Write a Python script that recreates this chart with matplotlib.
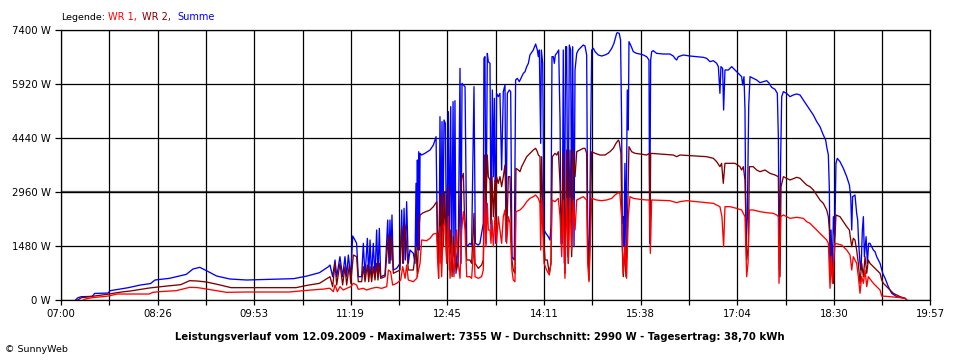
import matplotlib
matplotlib.use("Agg")
import matplotlib.pyplot as plt
import numpy as np

# ---------------- data (time = minutes after 07:00, power in W) ----------------
t_sum = [13, 15, 18, 28, 30, 42, 44, 53, 60, 71, 80, 84, 97, 112, 118, 124, 130, 139, 151, 166, 208, 220, 231, 239,
         240.4, 242.8, 244.9, 246.4, 249.3, 251.7, 253.8, 255.3, 256.8, 258.9,
         260.7, 262.7, 264.2, 265.7, 268.7, 270.2, 271.7, 273.8, 275.0, 276.2,
         277.6, 279.1, 280.6, 282.1, 283.3, 284.5, 285.7, 289.6, 292.0, 293.1,
         294.0, 294.9, 295.8, 297.0, 300.0, 303.0, 304.5, 305.4, 306.6, 307.7,
         308.9, 310.4, 311.9, 314.9, 316.4, 317.3, 317.9, 318.5, 319.1, 319.7,
         320.3, 320.9, 322.3, 325.3, 329.8, 332.8, 335.2, 336.4, 338.1, 338.7,
         339.6, 340.5, 341.4, 342.3, 343.5, 344.7, 346.2, 347.1, 348.3, 349.2,
         350.4, 351.2, 352.1, 353.0, 355.1, 356.6, 357.5, 358.4, 359.6, 361.1,
         362.6, 365.5,
         367.0, 369.1, 370.3, 372.9, 374.4, 375.9, 377.4, 378.0, 378.9, 379.8,
         381.0, 381.9, 383.4, 384.3, 385.5, 386.4, 387.3, 388.4, 389.3, 390.8,
         392.3, 393.8, 395.3, 396.8, 397.7, 398.9, 400.7, 401.9, 403.0, 405.1,
         406.3, 407.8, 409.6, 411.7, 413.2, 414.7, 416.2, 417.7, 419.1, 422.1,
         424.2, 425.7, 426.6, 427.5, 428.7, 429.3, 430.5, 431.7, 433.4, 435.5,
         437.0, 437.9, 438.8, 440.0, 440.9, 441.8, 443.0, 444.8, 446.0, 446.9,
         448.0, 448.9, 449.8, 451.0, 451.9, 453.1, 454.3, 455.5, 456.4, 457.3,
         458.5, 459.4, 460.9, 462.4, 463.8, 466.8, 468.3, 469.8, 470.7, 471.9,
         472.8, 474.3, 475.8, 477.3, 480.2, 483.2, 486.2, 489.2, 492.2, 494.2,
         496.6,
         497.2, 498.9, 500.1, 501.0, 501.6, 502.5, 503.1, 504.0, 504.9, 506.1,
         507.0, 507.6, 509.1, 511.5, 514.4, 517.4, 520.4, 523.4, 525.5, 526.1,
         527.0, 527.9, 529.3, 532.3, 538.3, 544.2, 547.2, 548.7, 550.2, 551.7,
         556.2, 562.1, 568.1, 574.0, 577.0, 580.0, 583.0, 586.0, 587.5, 588.9,
         589.8, 591.3, 592.2, 593.4, 596.4, 599.4, 602.4, 605.3, 608.3, 609.2,
         610.4, 611.3, 612.2, 613.4, 614.6, 615.8, 618.7, 621.7, 624.7,
         627.7, 630.7, 633.0, 635.1, 638.1, 640.2, 641.1, 642.0, 643.2, 644.1,
         645.6, 648.5, 651.5, 654.5, 657.5, 660.5, 663.4, 666.4, 669.4, 672.4,
         675.4, 678.3, 681.3, 683.4, 684.3, 685.8, 686.7, 687.3, 688.2, 689.4,
         690.3, 691.5, 692.6, 693.8, 696.2, 699.2, 702.2, 704.6, 705.8, 706.7,
         707.5, 709.6, 711.1, 712.0, 712.9, 714.1, 715.0, 716.2, 717.1, 718.0,
         719.5, 720.7, 721.8, 723.0, 724.5, 726.0, 727.5, 729.0, 732.0, 734.4,
         736.5, 739.4, 742.4, 746.9, 751.4, 754.3, 755.8]
p_sum = [0, 60, 90, 100, 180, 190, 255, 300, 337, 411, 450, 548, 594, 703, 850, 895, 804, 658, 575, 548, 585, 658, 749, 913,
         959, 639, 1096, 639, 1187, 639, 1187, 639, 1233, 639,
         1754, 1644, 1553, 639, 639, 1553, 639, 1690, 639, 1644,
         639, 1553, 639, 1918, 639, 1964, 639, 685, 2192, 1005,
         2192, 1096, 2330, 822, 868, 1005, 2467, 1005, 2512, 1096,
         2695, 1005, 1370, 1279, 1005, 3197, 1462, 3837, 1370, 4065,
         1370, 4020, 3974, 4020, 4111, 4248, 4477, 1553, 1918, 5025,
         1553, 4888, 1918, 4933, 4842, 1096, 5162, 1462, 5299, 1005,
         5436, 1187, 5463, 731, 1553, 6349, 1005, 5938, 5893, 5847,
         1462, 1553,
         1507, 5847, 1553, 1507, 1553, 1827, 2101, 6623, 6669, 1553,
         6760, 6532, 6486, 1918, 5756, 3380, 5527, 1553, 5664, 5573,
         5664, 3563, 5710, 5893, 1599, 5664, 5756, 5710, 1187, 1096,
         6030, 6075, 5984, 6121, 6212, 6258, 6395, 6486, 6715, 6852,
         7016, 6852, 6669, 6852, 4294, 6852, 6486, 1918, 1827, 1736,
         1644, 2010, 6669, 6669, 6486, 6715, 6760, 6852, 4933, 1553,
         1553, 6852, 1005, 6943, 6943, 1187, 6989, 6852, 1736, 6943,
         1462, 6304, 6760, 6852, 6898, 6989, 6961, 6715, 1827, 731,
         3106, 6852, 6898, 6806, 6715, 6687, 6715, 6760, 6898, 7035,
         7309,
         7327, 7309, 7126, 4933, 2101, 2284, 1462, 3746, 1370, 5756,
         4659, 7080, 6989, 6806, 6760, 6742, 6715, 6669, 6578, 1553,
         6578, 6806, 6834, 6760, 6742, 6742, 6687, 6623, 6578, 6669,
         6715, 6687, 6669, 6651, 6623, 6532, 6559, 6486, 6395, 5664,
         6395, 6349, 5207, 6304, 6304, 6395, 6304, 6212, 6121, 5893,
         6121, 5207, 1462, 2284, 5299, 6121, 6075, 6030, 5957,
         5984, 6011, 5938, 5829, 5774, 5664, 4477, 822, 3928, 5573,
         5710, 5664, 5573, 5619, 5646, 5619, 5481, 5344, 5207, 5070,
         4888, 4751, 4522, 4385, 4202, 3974, 3015, 822, 1918, 731,
         2284, 1736, 3746, 3883, 3791, 3609, 3380, 3152, 2832, 1918,
         2832, 2878, 2375, 2192, 1553, 1005, 822, 1918, 2284, 1187,
         1736, 1005, 1553, 1553, 1462, 1370, 1325, 1187, 1005, 731,
         594, 365, 183, 91, 64, 46, 0]

t_wr2 = [15, 18, 25, 35, 43, 50, 57, 62, 79, 95, 107, 115, 122, 130, 141, 152, 166, 210, 220, 231, 239,
         240.4, 242.8, 244.9, 246.4, 249.3, 251.7, 253.8, 255.3, 257.7, 258.9,
         261.3, 264.2, 265.7, 268.7, 270.2, 271.7, 273.8, 275.0, 276.2, 277.6,
         279.1, 280.6, 282.1, 283.3, 284.5, 285.7, 289.6, 292.6, 294.0, 295.5,
         297.0, 300.0, 303.0, 304.5, 306.0, 307.5, 310.4, 314.9, 317.3, 318.5,
         319.7, 320.9, 323.8, 329.8, 332.8, 335.8, 336.7, 337.5, 338.7, 339.6,
         340.8, 341.7, 342.9, 344.7, 346.2, 347.1, 348.3, 349.5, 350.7, 352.1,
         353.6, 355.1, 356.6, 358.1, 359.6, 360.5, 361.7, 362.6, 365.5,
         367.0, 369.1, 370.0, 373.0, 375.9, 377.4, 378.6, 379.8, 381.0, 381.9,
         383.4, 384.3, 385.2, 386.4, 387.9, 388.7, 389.3, 390.8, 392.3, 393.8,
         395.3, 396.8, 398.3, 399.8, 401.3, 403.0, 404.2, 405.7, 406.6, 408.7,
         410.2, 411.7, 413.2, 416.2, 419.1, 422.1, 424.2, 425.7, 426.6, 428.1,
         428.7, 429.6, 431.1, 432.6, 434.6, 436.4, 437.9, 439.1, 441.5, 443.0,
         444.5, 446.0, 447.5, 448.9, 450.4, 451.9, 453.4, 454.9, 456.4, 457.9,
         459.4, 460.9, 463.8, 466.8, 468.3, 469.8, 470.7, 471.9, 472.8, 474.3,
         477.3, 481.7, 486.2, 490.6, 493.6, 496.0, 498.1,
         498.9, 500.4, 501.6, 502.5, 504.0, 504.9, 506.1, 507.6, 510.0, 513.0,
         517.4, 523.4, 525.8, 526.4, 527.0, 535.3, 547.2, 550.2, 553.2, 568.1,
         577.0, 583.0, 586.0, 588.9, 590.4, 591.9, 593.4, 602.4, 606.8, 608.3,
         609.8, 611.3, 612.8, 614.3, 615.2, 618.7, 621.7, 624.7,
         629.2, 633.6, 638.1, 641.1, 641.7, 642.6, 643.5, 645.6, 651.5, 657.5,
         660.5, 663.4, 666.4, 669.4, 672.4, 675.4, 678.3, 681.3, 684.3, 685.8,
         686.7, 687.9, 689.1, 690.3, 691.7, 692.6, 696.2, 699.2, 702.2, 704.6,
         705.8, 706.7, 708.1, 709.6, 711.1, 712.6, 714.1, 715.6, 717.1, 718.6,
         720.1, 721.5, 723.0, 726.0, 729.0, 732.0, 733.5, 735.0, 737.9, 740.9,
         743.9, 749.9, 754.3, 755.8]
p_wr2 = [0, 60, 90, 130, 164, 201, 230, 247, 329, 384, 420, 530, 520, 493, 420, 338, 338, 338, 402, 457, 612,
         639, 365, 1005, 411, 1005, 411, 913, 411, 959, 457,
         1233, 1187, 502, 502, 913, 502, 959, 502, 913, 502,
         913, 548, 1005, 548, 1005, 594, 639, 1781, 1005, 1736,
         731, 776, 822, 2010, 1005, 2055, 822, 822, 1462, 639,
         1918, 2330, 2393, 2467, 2558, 2695, 1462, 1005, 2878, 1005,
         2969, 1462, 2923, 1096, 3106, 822, 1918, 639, 1736, 1005,
         822, 1096, 2832, 3335, 3472, 2421, 1918, 1096, 1096,
         1005, 2375, 1005, 868, 959, 1096, 3974, 2649, 3974, 3380,
         3289, 2101, 3380, 2284, 3289, 1918, 3380, 3197, 3380, 3106,
         3380, 3700, 1736, 3380, 3380, 1096, 822, 731, 3609, 3563,
         3517, 3654, 3746, 3928, 4020, 4111, 4157, 4065, 3974, 3928,
         2101, 3928, 1827, 1096, 1096, 731, 1005, 3928, 4020, 3974,
         4065, 3197, 1553, 4020, 731, 4111, 1005, 4111, 1187, 4111,
         3380, 4065, 4111, 4157, 4157, 4020, 1553, 548, 1736, 4065,
         4020, 3974, 3974, 4065, 4157, 4294, 4385,
         4340, 4020, 1462, 639, 1462, 639, 1918, 4202, 4065, 4020,
         4002, 3974, 4020, 1644, 4020, 4002, 3974, 3928, 3974, 3947,
         3928, 3883, 3791, 3654, 3746, 3197, 3746, 3746, 3654, 3563,
         3654, 3289, 1096, 1462, 3654, 3654, 3563, 3517,
         3563, 3472, 3426, 3380, 1644, 639, 3106, 3380, 3289, 3362,
         3335, 3243, 3152, 3106, 3015, 2878, 2741, 2649, 2467, 2284,
         1918, 639, 1005, 457, 1736, 2330, 2284, 2147, 2010, 1918,
         1644, 1462, 1690, 1644, 1370, 1005, 457, 1005, 639, 1187,
         731, 1096, 1005, 913, 822, 731, 548, 457, 365, 274,
         183, 91, 46, 0]

t_wr1 = [20, 22, 28, 40, 44, 50, 79, 82, 88, 103, 115, 122, 130, 148, 166, 204, 220, 235, 239,
         240.4, 243.4, 244.9, 247.0, 249.3, 252.3, 255.3, 258.9, 261.3, 264.2,
         265.7, 270.2, 273.2, 277.6, 282.1, 286.6, 291.1, 292.6, 294.6, 296.4,
         300.0, 303.6, 305.4, 307.5, 308.9, 310.4, 314.9, 317.9, 320.9, 322.3,
         326.8, 329.8, 332.8, 335.8, 336.7, 337.5, 338.7, 340.2, 341.7, 343.2,
         344.7, 346.2, 347.7, 349.5, 351.2, 353.6, 355.1, 356.6, 358.1, 359.6,
         361.1, 362.6, 365.5,
         367.0, 369.1, 370.0, 373.0, 375.9, 377.4, 378.6, 379.8, 381.0, 381.9,
         383.4, 384.3, 385.2, 386.4, 387.9, 389.3, 390.8, 392.3, 393.8, 395.3,
         396.8, 398.3, 399.8, 401.3, 403.0, 404.2, 405.7, 406.6, 410.2, 413.2,
         416.2, 419.1, 422.1, 424.2, 426.6, 428.1, 428.7, 429.6, 431.7, 434.0,
         436.4, 437.9, 438.8, 441.5, 444.5, 446.0, 447.5, 448.9, 450.4, 451.9,
         453.4, 454.9, 456.4, 457.9, 459.4, 460.9, 463.8, 466.8, 469.8, 470.7,
         471.9, 472.8, 474.3, 478.7, 483.2, 487.7, 492.2, 495.1, 498.1,
         499.5, 501.0, 502.5, 504.0, 505.5, 507.0, 508.5, 511.5, 517.4, 523.4,
         525.8, 526.7, 527.9, 544.2, 550.2, 553.2, 559.1, 568.1, 577.0, 583.0,
         586.0, 588.9, 590.7, 592.2, 593.4, 597.9, 603.8, 608.3, 611.3, 612.8,
         614.0, 615.2, 618.7, 624.7,
         630.7, 636.6, 639.6, 641.1, 641.7, 643.2, 645.6, 651.5, 657.5, 663.4,
         666.4, 669.4, 672.4, 675.4, 678.3, 681.3, 684.3, 685.8, 687.3, 688.2,
         689.4, 690.3, 691.7, 697.7, 702.2, 705.2, 706.7, 708.1, 709.6, 711.1,
         712.6, 714.1, 715.6, 717.1, 718.6, 720.1, 721.5, 726.0, 729.0, 732.0,
         733.5, 740.9, 749.9, 754.3, 755.8]
p_wr1 = [0, 30, 64, 100, 119, 164, 164, 210, 228, 256, 347, 340, 301, 210, 219, 219, 265, 300, 320,
         320, 228, 411, 228, 365, 274, 320, 365, 457, 411,
         292, 320, 274, 320, 347, 320, 365, 822, 776, 411,
         457, 548, 913, 594, 959, 548, 502, 594, 1005, 1644,
         1626, 1690, 1809, 1827, 1005, 594, 2010, 639, 2055, 2101,
         1005, 2284, 594, 1553, 639, 1918, 1005, 594, 1918, 2421,
         1918, 639, 639,
         594, 1553, 639, 594, 639, 822, 2832, 1462, 2649, 1918,
         1918, 1553, 2192, 1462, 2284, 1553, 2284, 1918, 1553, 2284,
         2467, 1553, 2284, 2101, 822, 548, 502, 2421, 2467, 2558,
         2695, 2786, 2832, 2878, 2786, 2649, 1370, 2741, 1005, 822,
         685, 1005, 2741, 2695, 2786, 2284, 1187, 2741, 594, 2786,
         1005, 2786, 1370, 2741, 1918, 2741, 2786, 2832, 2741, 1005,
         502, 1370, 2786, 2741, 2722, 2741, 2786, 2878, 2942,
         2923, 2284, 731, 1462, 594, 2284, 2832, 2786, 2759, 2741,
         2741, 1279, 2741, 2722, 2668, 2695, 2722, 2695, 2668, 2649,
         2604, 2558, 2284, 1462, 2558, 2558, 2512, 2467, 2284, 639,
         1005, 2467, 2467, 2421,
         2393, 2375, 2330, 2284, 457, 2284, 2330, 2238, 2266, 2238,
         2147, 2101, 2010, 1918, 1827, 1736, 1644, 1553, 320, 1187,
         457, 1005, 1553, 1507, 1370, 1233, 822, 1187, 1096, 1005,
         639, 183, 639, 457, 822, 365, 639, 457, 365, 274,
         110, 91, 64, 46, 0]

x_labels = ["07:00", "08:26", "09:53", "11:19", "12:45", "14:11", "15:38", "17:04", "18:30", "19:57"]
y_values = [0, 1480, 2960, 4440, 5920, 7400]
y_labels = ["0 W", "1480 W", "2960 W", "4440 W", "5920 W", "7400 W"]
span_minutes = 777

title = ("Leistungsverlauf vom 12.09.2009 - Maximalwert: 7355 W - "
         "Durchschnitt: 2990 W - Tagesertrag: 38,70 kWh")

# ---------------- figure ----------------
plt.rcParams["font.family"] = ["DejaVu Sans"]
fig = plt.figure(figsize=(9.6, 3.6), dpi=100)
fig.patch.set_facecolor("white")
ax = fig.add_axes([61 / 960, 60 / 360, 869.4 / 960, 270 / 360])

ax.set_xlim(0, span_minutes)
ax.set_ylim(0, 7400)

major = np.linspace(0, span_minutes, len(x_labels))
minor = np.linspace(0, span_minutes, 2 * (len(x_labels) - 1) + 1)
ax.set_xticks(major)
ax.set_xticklabels(x_labels)
ax.set_xticks(minor, minor=True)
ax.set_yticks(y_values)
ax.set_yticklabels(y_labels)

ax.set_axisbelow(True)
ax.grid(which="both", axis="x", color="black", lw=0.9)
ax.grid(which="major", axis="y", color="black", lw=0.9)
ax.axhline(2960, color="#5a5a5a", lw=1.6, zorder=0.5)

ax.tick_params(axis="x", which="both", length=3.6, width=0.9, pad=3.0,
               labelsize=7.3, direction="out", color="black")
ax.tick_params(axis="y", which="major", length=4.3, width=0.9, pad=3.2,
               labelsize=7.3, direction="out", color="black")
for s in ax.spines.values():
    s.set_color("black")
    s.set_linewidth(0.9)

ax.plot(t_sum, p_sum, color="#0000ff", lw=0.95, zorder=2)
ax.plot(t_wr2, p_wr2, color="#800000", lw=0.95, zorder=3)
ax.plot(t_wr1, p_wr1, color="#ff0000", lw=0.95, zorder=4)

ly = 1 - 17 / 360
fig.text(61 / 960, ly, "Legende:", fontsize=6.8, va="center", ha="left", color="black")
fig.text(107.5 / 960, ly, "WR 1,", fontsize=7.0, va="center", ha="left", color="#ff0000")
fig.text(142 / 960, ly, "WR 2,", fontsize=7.0, va="center", ha="left", color="#800000")
fig.text(177 / 960, ly, "Summe", fontsize=7.0, va="center", ha="left", color="#0000ff")

fig.text(480 / 960, 1 - 337 / 360, title, fontsize=7.3, fontweight="bold",
         ha="center", va="center", color="black")
fig.text(5 / 960, 1 - 349 / 360, "\u00a9 SunnyWeb", fontsize=6.8, ha="left",
         va="center", color="black")

fig.savefig("out.png", dpi=100, facecolor="white")
